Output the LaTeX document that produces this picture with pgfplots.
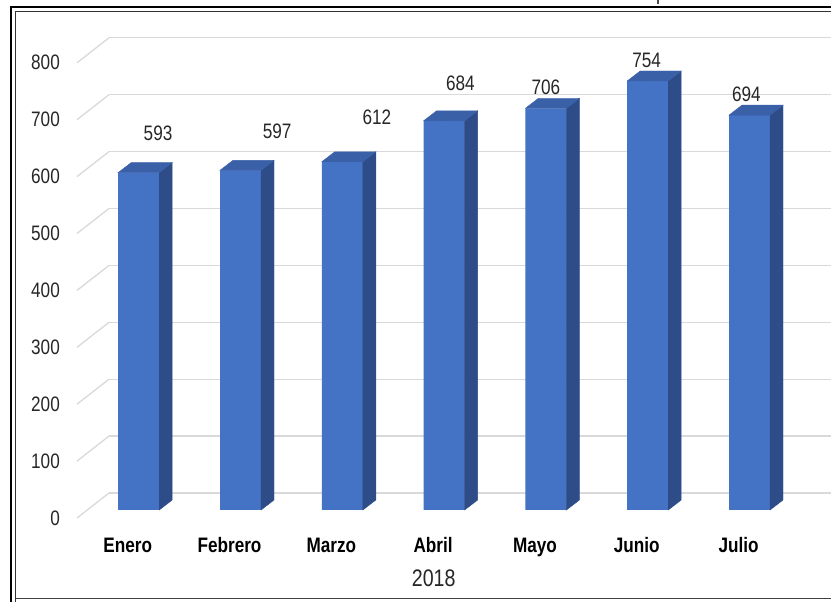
\documentclass[border=0pt]{standalone}
\usepackage{pgfplots}
\pgfplotsset{compat=1.18}
\usepackage{pgfplotstable}
\usepackage{fontspec}
\setmainfont{Liberation Sans}[FakeStretch=0.82]

\definecolor{barfront}{HTML}{4472C4}
\definecolor{barside}{HTML}{2D4C88}
\definecolor{bartop}{HTML}{3A60A8}
\definecolor{gridgray}{HTML}{D9D9D9}
\definecolor{txt}{HTML}{262626}

% x: category index, v: value, lx/ly: where the value label sits
\pgfplotstableread{
x v   lx   ly
0 593 0.19 662
1 597 1.36 666
2 612 2.34 691
3 684 3.16 750
4 706 4.00 743
5 754 4.99 791
6 694 5.97 731
}\ventas

\newcommand{\chartfont}{\fontsize{21}{24}\selectfont}

\begin{document}
\begin{tikzpicture}[x=1bp,y=1bp]
\useasboundingbox (0,0) rectangle (831,602);

% double frame
\draw[black, line width=2.5bp] (11,0) -- (11,595) -- (831,595);
\draw[black!80, line width=1.5bp] (15.7,0) -- (15.7,590.5) -- (831,590.5);
\draw[black!75, line width=1.5bp] (15.7,3.5) -- (831,3.5);
\draw[black!70, line width=1.5bp] (658,602) -- (658,598);

% back wall: gridlines, side-wall diagonals and value axis labels
\begin{axis}[
  at={(109bp,109bp)}, anchor=south west, scale only axis,
  width=722bp, height=455.2bp,
  xmin=0, xmax=1, ymin=0, ymax=800,
  clip=false,
  axis line style={draw=none},
  xtick=\empty,
  ytick={0,100,...,800},
  major tick length=0pt,
  ymajorgrids,
  major grid style={gridgray, line width=1.3bp},
  /pgf/number format/assume math mode=true,
  yticklabel style={anchor=east, inner sep=0pt, xshift=-49bp, yshift=-25bp,
    font=\chartfont, text=txt},
]
\pgfplotsinvokeforeach{0,100,...,800}{
  \draw[gridgray, line width=1.3bp] (axis cs:0,#1) -- ++(-32bp,-25bp);
}
\end{axis}

% bars
\begin{axis}[
  at={(70bp,92bp)}, anchor=south west,
  x=101.8bp, y=0.569bp,
  xmin=-0.675, xmax=6.80, ymin=0, ymax=800,
  clip=false,
  axis line style={draw=none},
  ytick=\empty,
  xtick={0,...,6},
  xticklabels={Enero,Febrero,Marzo,Abril,Mayo,Junio,Julio},
  major tick length=0pt,
  /pgf/number format/assume math mode=true,
  xticklabel style={anchor=base, xshift=-11bp, yshift=-43bp,
    font=\chartfont\bfseries, text=black},
  xlabel={2018},
  xlabel style={at={(axis description cs:0.478,0)}, anchor=base, yshift=-77bp,
    font=\fontsize{24}{28}\selectfont, text=txt},
]
% front faces
\addplot[ybar, bar width=41bp, fill=barfront, draw=none] table[x=x, y=v] {\ventas};
% side and top faces of each bar
\addplot[scatter, only marks, mark=*, mark size=0pt,
  visualization depends on={\thisrow{v}*0.569 \as \hh},
  scatter/@pre marker code/.code={
    \fill[barside] (20.5bp,0pt) -- ++(13bp,10bp) -- ++(0pt,-\hh bp) -- ++(-13bp,-10bp) -- cycle;
    \fill[bartop] (-20.5bp,0pt) -- ++(13bp,10bp) -- ++(41bp,0pt) -- ++(-13bp,-10bp) -- cycle;
  },
  scatter/@post marker code/.code={},
] table[x=x, y=v] {\ventas};
% value labels
\addplot[only marks, mark=none, point meta=explicit,
  nodes near coords,
  nodes near coords style={anchor=center, font=\chartfont, text=txt},
] table[x=lx, y=ly, meta=v] {\ventas};
\end{axis}
\end{tikzpicture}
\end{document}
